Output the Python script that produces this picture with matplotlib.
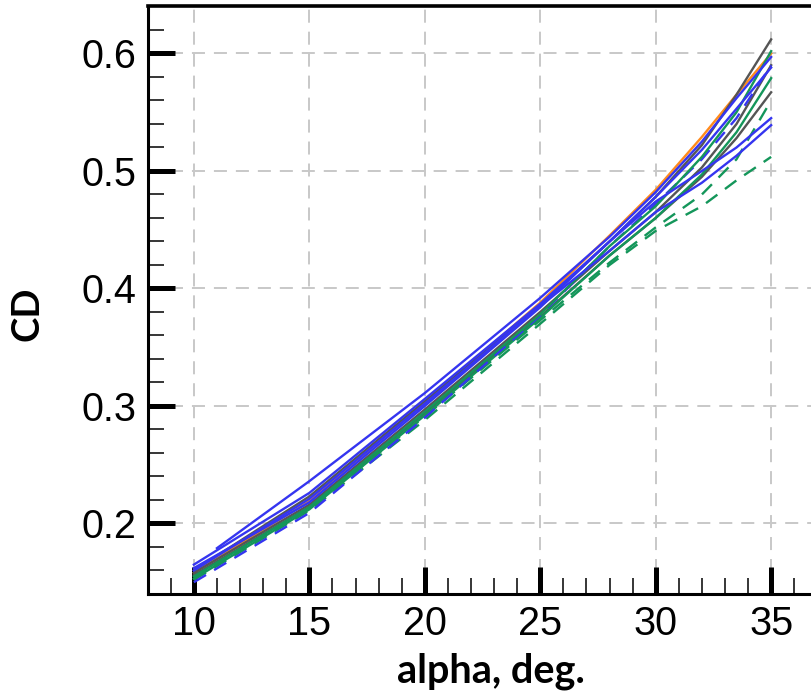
import matplotlib
matplotlib.use("Agg")
import matplotlib.pyplot as plt
import numpy as np
from matplotlib.ticker import MultipleLocator

# angle of attack stations (deg)
alpha = [10, 15, 20, 25, 28, 30, 32, 33.5, 35]
alpha_late = [11, 15, 20, 25, 28, 30, 32, 33.5, 35]

# CD curves
cd_orange = [0.158, 0.219, 0.303, 0.388, 0.445, 0.484, 0.529, 0.565, 0.600]
cd_blue1 = [0.179, 0.236, 0.311, 0.392, 0.444, 0.482, 0.525, 0.562, 0.597]
cd_blue2 = [0.165, 0.226, 0.306, 0.387, 0.440, 0.474, 0.500, 0.520, 0.545]
cd_blue3 = [0.160, 0.221, 0.302, 0.385, 0.432, 0.465, 0.490, 0.513, 0.539]
cd_blue4 = [0.162, 0.218, 0.300, 0.384, 0.440, 0.478, 0.518, 0.553, 0.588]
cd_blue_dash = [0.150, 0.209, 0.290, 0.377, 0.436, 0.472, 0.510, 0.545, 0.590]
cd_gray1 = [0.160, 0.223, 0.304, 0.385, 0.440, 0.478, 0.522, 0.565, 0.612]
cd_gray2 = [0.158, 0.216, 0.297, 0.380, 0.432, 0.465, 0.503, 0.540, 0.590]
cd_gray3 = [0.156, 0.214, 0.294, 0.376, 0.428, 0.460, 0.495, 0.528, 0.567]
cd_green1 = [0.155, 0.214, 0.295, 0.378, 0.436, 0.470, 0.512, 0.550, 0.602]
cd_green2 = [0.153, 0.212, 0.292, 0.375, 0.428, 0.460, 0.497, 0.533, 0.579]
cd_green_dash1 = [0.152, 0.211, 0.288, 0.370, 0.420, 0.449, 0.470, 0.492, 0.512]
cd_green_dash2 = [0.154, 0.213, 0.291, 0.373, 0.422, 0.452, 0.480, 0.510, 0.560]

x_ticks = [10, 15, 20, 25, 30, 35]
y_ticks = [0.2, 0.3, 0.4, 0.5, 0.6]

blue = "#3535f0"
gray = "#555555"
green = "#14965a"
orange = "#ff8a1c"
dash = (0, (6, 4))

fig = plt.figure(figsize=(8.11, 6.91), dpi=100)
ax = fig.add_axes([0.1821, 0.1404, 0.8257, 0.8502])

lw = 1.7
ax.plot(alpha, cd_orange, color=orange, lw=lw)
ax.plot(alpha, cd_gray3, color=gray, lw=lw)
ax.plot(alpha, cd_gray2, color=gray, lw=lw)
ax.plot(alpha, cd_green2, color=green, lw=lw)
ax.plot(alpha, cd_green_dash1, color=green, lw=lw, ls=dash)
ax.plot(alpha, cd_green_dash2, color=green, lw=lw, ls=dash)
ax.plot(alpha, cd_blue_dash, color=blue, lw=lw, ls=dash)
ax.plot(alpha, cd_green1, color=green, lw=lw)
ax.plot(alpha, cd_gray1, color=gray, lw=lw)
ax.plot(alpha, cd_blue2, color=blue, lw=lw)
ax.plot(alpha, cd_blue3, color=blue, lw=lw)
ax.plot(alpha, cd_blue4, color=blue, lw=lw)
ax.plot(alpha_late, cd_blue1, color=blue, lw=lw)

ax.set_xlim(8, 37)
ax.set_ylim(0.14, 0.64)
ax.set_xticks(x_ticks)
ax.set_yticks(y_ticks)
ax.set_xticklabels([str(v) for v in x_ticks])
ax.set_yticklabels([f"{v:.1f}" for v in y_ticks])
ax.xaxis.set_minor_locator(MultipleLocator(1))
ax.yaxis.set_minor_locator(MultipleLocator(0.02))

ax.grid(True, which="major", color="#c8c8c8", lw=1.4, ls=(0, (6.7, 4.6)))
ax.set_axisbelow(True)

ax.tick_params(which="major", direction="in", length=19.4, width=3.6,
               labelsize=28.5, pad=8, top=False, right=False)
ax.tick_params(which="minor", direction="in", length=11.5, width=1.1,
               top=False, right=False)
for lab in ax.get_xticklabels() + ax.get_yticklabels():
    lab.set_fontfamily("Liberation Sans")

for s in ax.spines.values():
    s.set_linewidth(2.2)
ax.spines["top"].set_linewidth(2.6)

fig.text(491 / 811, 9 / 691, "alpha, deg.", ha="center", va="baseline",
         fontsize=28.5, fontweight="bold", family="Lato")
fig.text(28 / 811, 1 - 313.5 / 691, "CD", ha="center", va="center",
         rotation=90, fontsize=27.5, fontweight="bold", family="Lato")

fig.savefig("out.png", dpi=100)
